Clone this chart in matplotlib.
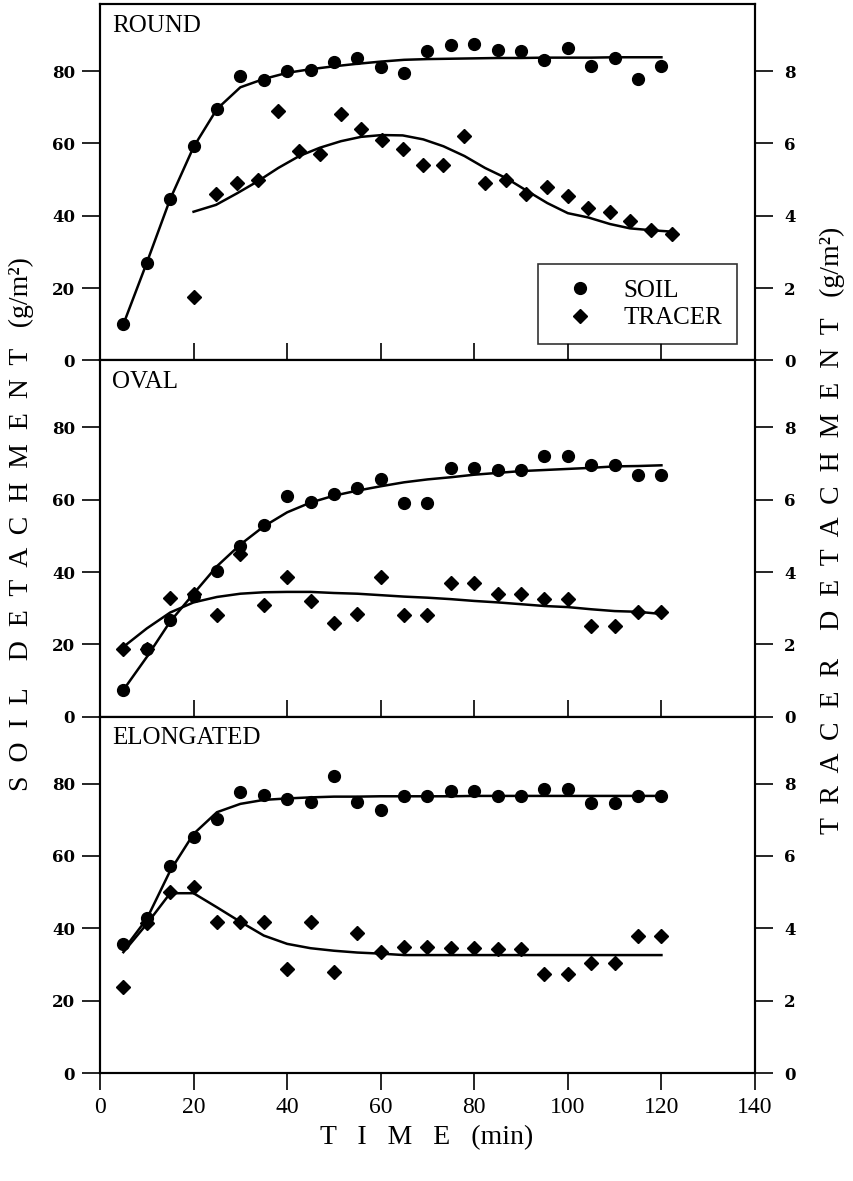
import matplotlib
matplotlib.use("Agg")
import matplotlib.pyplot as plt
from matplotlib.lines import Line2D

# sampling times (min)
t_soil = [5, 10, 15, 20, 25, 30, 35, 40, 45, 50, 55, 60, 65, 70, 75, 80, 85, 90, 95, 100, 105, 110, 115, 120]
t_tracer_round = [20.0, 24.8, 29.3, 33.7, 38.1, 42.6, 47.0, 51.5, 55.8, 60.3, 64.7, 69.1,
                  73.4, 77.9, 82.3, 86.8, 91.1, 95.6, 100.0, 104.4, 109.0, 113.3, 117.7, 122.2]

# ROUND
round_soil = [10.2, 27.0, 44.6, 59.2, 69.6, 78.7, 77.6, 79.9, 80.4, 82.4, 83.7, 81.2,
              79.5, 85.4, 87.1, 87.4, 85.7, 85.5, 83.1, 86.4, 81.3, 83.6, 77.8, 81.5]
round_soil_fit = [10.0, 27.0, 44.6, 59.0, 69.5, 75.5, 77.8, 79.5, 80.5, 81.3, 82.0, 82.6,
                  83.1, 83.3, 83.4, 83.5, 83.6, 83.6, 83.7, 83.7, 83.7, 83.8, 83.8, 83.8]
round_tracer = [1.75, 4.6, 4.9, 5.0, 6.9, 5.8, 5.7, 6.8, 6.4, 6.1, 5.85, 5.4,
                5.4, 6.2, 4.9, 5.0, 4.6, 4.8, 4.55, 4.2, 4.1, 3.85, 3.6, 3.5]
round_tracer_fit = [4.11, 4.30, 4.62, 4.95, 5.32, 5.65, 5.88, 6.06, 6.18, 6.23, 6.22, 6.11,
                    5.92, 5.65, 5.32, 5.04, 4.70, 4.35, 4.07, 3.95, 3.77, 3.65, 3.60, 3.56]

# OVAL
oval_soil = [7.4, 18.6, 26.7, 33.4, 40.4, 47.2, 52.9, 61.1, 59.4, 61.6, 63.1, 65.6,
             59.0, 59.0, 68.8, 68.8, 68.2, 68.2, 72.2, 72.2, 69.5, 69.5, 66.9, 66.9]
oval_soil_fit = [7.4, 16.5, 26.3, 34.0, 41.6, 47.6, 52.6, 56.5, 59.2, 61.1, 62.5, 63.7,
                 64.8, 65.6, 66.2, 66.9, 67.4, 67.9, 68.2, 68.5, 68.8, 69.2, 69.3, 69.5]
oval_tracer = [1.86, 1.86, 3.28, 3.4, 2.8, 4.5, 3.1, 3.85, 3.2, 2.6, 2.85, 3.85,
               2.8, 2.8, 3.7, 3.7, 3.4, 3.4, 3.25, 3.25, 2.5, 2.5, 2.9, 2.9]
oval_tracer_fit = [1.93, 2.44, 2.88, 3.16, 3.31, 3.40, 3.44, 3.45, 3.45, 3.42, 3.40, 3.36,
                   3.32, 3.29, 3.25, 3.20, 3.16, 3.11, 3.06, 3.03, 2.97, 2.92, 2.90, 2.84]

# ELONGATED
elong_soil = [35.7, 42.9, 57.3, 65.3, 70.2, 77.8, 76.9, 75.8, 75.0, 82.0, 75.0, 72.8,
              76.5, 76.5, 77.9, 77.9, 76.7, 76.7, 78.5, 78.5, 74.6, 74.6, 76.7, 76.7]
elong_soil_fit = [34.0, 42.6, 55.9, 66.1, 72.1, 74.4, 75.5, 75.9, 76.2, 76.4, 76.4, 76.5,
                  76.5, 76.5, 76.5, 76.6, 76.6, 76.6, 76.6, 76.6, 76.6, 76.6, 76.6, 76.6]
elong_tracer = [2.37, 4.15, 5.0, 5.13, 4.18, 4.18, 4.18, 2.88, 4.18, 2.8, 3.86, 3.34,
                3.47, 3.47, 3.46, 3.46, 3.43, 3.43, 2.74, 2.74, 3.03, 3.03, 3.8, 3.8]
elong_tracer_fit = [3.34, 4.12, 4.97, 4.97, 4.58, 4.18, 3.80, 3.57, 3.45, 3.38, 3.33, 3.30,
                    3.26, 3.26, 3.26, 3.26, 3.26, 3.26, 3.26, 3.26, 3.26, 3.26, 3.26, 3.26]

panels = [
    ("ROUND", t_soil, round_soil, round_soil_fit, t_tracer_round, round_tracer, round_tracer_fit),
    ("OVAL", t_soil, oval_soil, oval_soil_fit, t_soil, oval_tracer, oval_tracer_fit),
    ("ELONGATED", t_soil, elong_soil, elong_soil_fit, t_soil, elong_tracer, elong_tracer_fit),
]

serif = ["Liberation Serif", "DejaVu Serif"]
tick_font = {"family": "DejaVu Serif", "weight": "bold", "size": 12}

fig = plt.figure(figsize=(8.54, 11.81), dpi=100)

left, width = 100 / 854, 655 / 854
h = 356.3 / 1181
bottom0 = 1 - 1073 / 1181

for i, (name, ts, soil, soil_fit, tt, tracer, tracer_fit) in enumerate(panels):
    ax = fig.add_axes([left, bottom0 + (2 - i) * h, width, h])
    ax2 = ax.twinx()
    ax.set_xlim(0, 140)
    ax.set_ylim(0, 98.5)
    ax2.set_ylim(0, 9.85)

    ax.plot(ts, soil_fit, color="black", lw=1.8, zorder=2)
    ax.plot(ts, soil, "o", color="black", ms=8.5, zorder=3)
    ax2.plot(tt, tracer_fit, color="black", lw=1.8, zorder=2)
    ax2.plot(tt, tracer, "D", color="black", ms=7.5, zorder=3)

    ax.set_yticks([0, 20, 40, 60, 80])
    ax2.set_yticks([0, 2, 4, 6, 8])
    ax.set_xticks([0, 20, 40, 60, 80, 100, 120, 140])

    for lab in ax.get_yticklabels():
        lab.set_fontproperties(tick_font)
    for lab in ax2.get_yticklabels():
        lab.set_fontproperties(tick_font)

    ax.tick_params(axis="y", direction="out", length=13, width=1.2, pad=5)
    ax2.tick_params(axis="y", direction="out", length=13, width=1.2, pad=8)
    if i < 2:
        ax.tick_params(axis="x", direction="in", length=12, width=1.2, labelbottom=False)
    else:
        ax.tick_params(axis="x", direction="out", length=12, width=1.2, pad=5,
                       labelsize=17)
        for lab in ax.get_xticklabels():
            lab.set_family(serif)

    for a in (ax, ax2):
        for s in a.spines.values():
            s.set_linewidth(1.5)

    ax.text(0.018, 0.97, name, transform=ax.transAxes, ha="left", va="top",
            family=serif, fontsize=18)

    if i == 0:
        handles = [Line2D([], [], ls="none", marker="o", color="black", ms=8.5),
                   Line2D([], [], ls="none", marker="D", color="black", ms=7.5)]
        leg = ax.legend(handles, ["SOIL", "TRACER"], loc="lower right",
                        bbox_to_anchor=(0.9725, 0.045), frameon=True, fancybox=False,
                        prop={"family": serif, "size": 18}, handletextpad=0.64,
                        borderpad=0.6, labelspacing=0.2, handlelength=2.16,
                        borderaxespad=0)
        leg.get_frame().set_edgecolor("black")
        leg.get_frame().set_linewidth(1.2)

fig.text(0.5, 1 - 1138 / 1181, "T   I   M   E   (min)", ha="center", va="center",
         family=serif, fontsize=20)
fig.text(0.025, 1 - 524 / 1181, "S  O  I  L    D  E  T  A  C  H  M  E  N  T   (g/m²)",
         rotation=90, ha="center", va="center", family=serif, fontsize=20)
fig.text(0.975, 1 - 530 / 1181, "T  R  A  C  E  R    D  E  T  A  C  H  M  E  N  T   (g/m²)",
         rotation=90, ha="center", va="center", family=serif, fontsize=20)

fig.savefig("out.png", dpi=100)
